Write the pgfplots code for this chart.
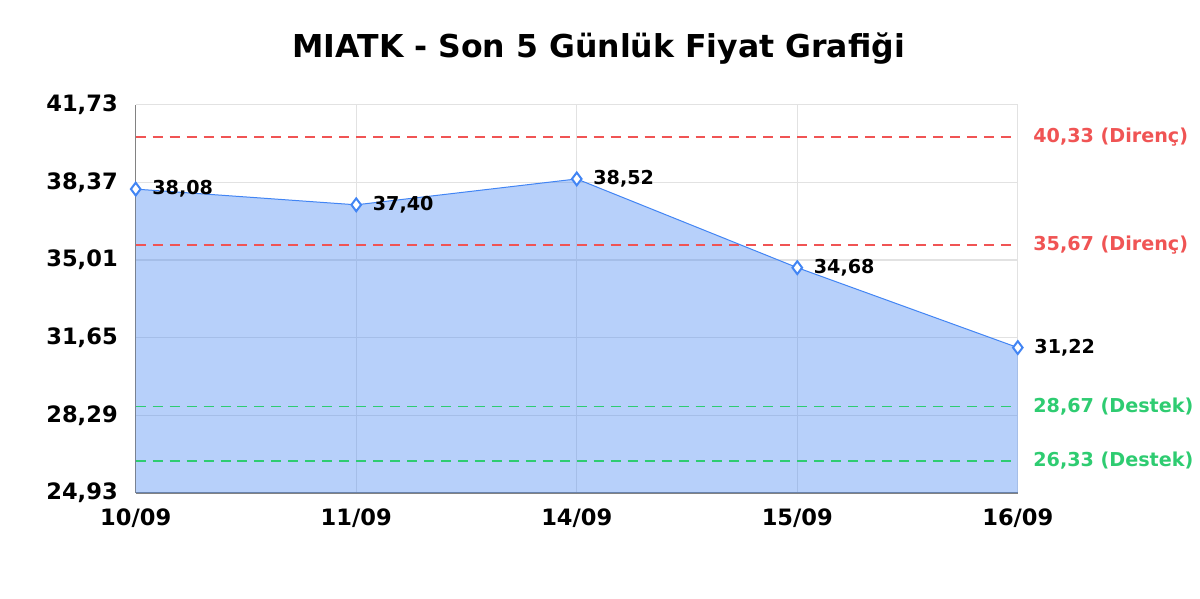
\documentclass[border=0pt]{standalone}
\usepackage{fontspec}
\setmainfont{DejaVu Sans}
\usepackage{pgfplots}
\pgfplotsset{compat=1.18}

\definecolor{lineblue}{RGB}{66,133,244}
\definecolor{resred}{RGB}{240,84,84}
\definecolor{supgreen}{RGB}{46,204,113}
\definecolor{gridgray}{RGB}{226,226,226}
\definecolor{axisgray}{RGB}{130,130,130}

\tikzset{
  dashline/.style={line width=0.95pt, dash pattern=on 5pt off 3.5pt},
  sidelabel/.style={anchor=west, xshift=4pt, font=\bfseries\fontsize{9.6}{11}\selectfont},
}

\pgfplotstableread{
x  y     lab
0  38.08 38,08
1  37.40 37,40
2  38.52 38,52
3  34.68 34,68
4  31.22 31,22
}\prices

\begin{document}
\begin{tikzpicture}
\fill[white] (0,0) rectangle (600pt,300pt);
\node[font=\bfseries\fontsize{15.8}{18}\selectfont] at (300pt,275.5pt)
  {MIATK - Son 5 Günlük Fiyat Grafiği};
\begin{axis}[
  at={(68pt,53pt)}, anchor=south west,
  scale only axis, width=442pt, height=194.5pt,
  xmin=0, xmax=4, ymin=24.93, ymax=41.73,
  xtick={0,1,2,3,4},
  xticklabels={10/09,11/09,14/09,15/09,16/09},
  ytick={24.93,28.29,31.65,35.01,38.37,41.73},
  yticklabels={{24,93},{28,29},{31,65},{35,01},{38,37},{41,73}},
  ticklabel style={font=\bfseries\fontsize{11.3}{13}\selectfont},
  xticklabel style={yshift=-4.5pt},
  yticklabel style={xshift=-5.5pt},
  major tick length=0pt,
  grid=major,
  major grid style={gridgray, line width=0.55pt},
  axis x line*=bottom, axis y line*=left,
  axis line style={axisgray, line width=0.6pt, -},
  clip=false,
]
\addplot[fill=lineblue, fill opacity=0.38, draw=none]
  coordinates {(0,24.93) (0,38.08) (1,37.40) (2,38.52) (3,34.68) (4,31.22) (4,24.93)};

\addplot[draw=resred, dashline] coordinates {(0,40.33) (4,40.33)}
  node[pos=1, sidelabel, text=resred] {40,33 (Direnç)};
\addplot[draw=resred, dashline] coordinates {(0,35.67) (4,35.67)}
  node[pos=1, sidelabel, text=resred] {35,67 (Direnç)};
\addplot[draw=supgreen, dashline] coordinates {(0,28.67) (4,28.67)}
  node[pos=1, sidelabel, text=supgreen] {28,67 (Destek)};
\addplot[draw=supgreen, dashline] coordinates {(0,26.33) (4,26.33)}
  node[pos=1, sidelabel, text=supgreen] {26,33 (Destek)};

\addplot[lineblue, line width=0.5pt, mark=diamond*, mark size=3.2pt,
  mark options={fill=white, draw=lineblue, line width=1pt},
  point meta=explicit symbolic,
  nodes near coords,
  every node near coord/.append style={anchor=west, xshift=4.5pt,
    font=\bfseries\fontsize{9.6}{11}\selectfont, text=black}]
  table[x=x,y=y,meta=lab] {\prices};
\end{axis}
\end{tikzpicture}
\end{document}
